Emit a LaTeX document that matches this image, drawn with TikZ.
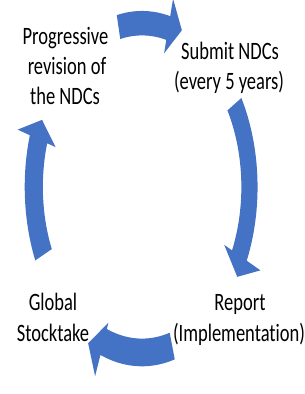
\documentclass[tikz,border=0pt]{standalone}
\usepackage{fontspec}
\newfontfamily\lblfont{Carlito}[FakeStretch=0.74, Ligatures=NoCommon]
\definecolor{arrowblue}{RGB}{68,114,196}
% #1 tail angle, #2 head-base angle, #3 tip angle, #4 inner r, #5 outer r, #6 inner corner r, #7 outer corner r, #8 tip r
\newcommand\cyclearrow[8]{%
  \fill[blockarrow] (#1:#5) -- plot[domain=#1:#2,samples=40] ({#5*cos(\x)},{#5*sin(\x)})
    -- (#2:#7) -- (#3:#8) -- (#2:#6)
    -- plot[domain=#2:#1,samples=40] ({#4*cos(\x)},{#4*sin(\x)}) -- cycle;}
\begin{document}
\begin{tikzpicture}[x=1pt,y=1pt,
  lbl/.style={anchor=base, inner sep=0pt, font=\lblfont\fontsize{25}{30}\selectfont, text=black},
  blockarrow/.style={fill=arrowblue, draw=none}]
\useasboundingbox (0,0) rectangle (305,-394);
\begin{scope}[shift={(142,-187)}, xscale=108, yscale=163]
  \cyclearrow{102.5}{76}{69}{0.93}{1.08}{0.845}{1.19}{1.03}
  \cyclearrow{30.7}{-25}{-32}{0.92}{1.07}{0.84}{1.21}{1.04}
  \cyclearrow{-74}{-110.5}{-117.5}{0.93}{1.10}{0.89}{1.24}{1.08}
  \cyclearrow{204.5}{163}{156}{0.918}{1.086}{0.837}{1.204}{1.013}
\end{scope}
\node[lbl] (prog1) at (65.5,-44) {Progressive};
\node[lbl] (prog2) at (67,-74) {revision of};
\node[lbl] (prog3) at (65,-104) {the NDCs};
\node[lbl] (sub1) at (230,-59) {Submit NDCs};
\node[lbl] (sub2) at (229,-89) {(every 5 years)};
\node[lbl] (glob1) at (53,-310) {Global};
\node[lbl] (glob2) at (53,-341) {Stocktake};
\node[lbl] (rep1) at (240,-310) {Report};
\node[lbl] (rep2) at (239,-341) {(Implementation)};
\end{tikzpicture}
\end{document}
